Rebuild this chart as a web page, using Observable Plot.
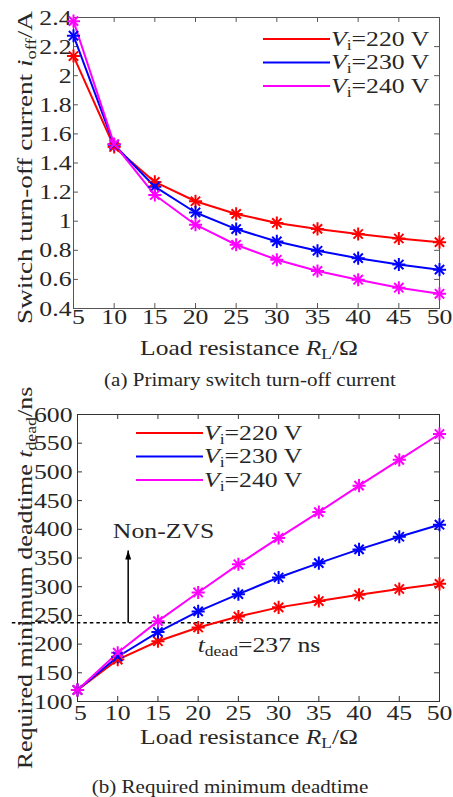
<!DOCTYPE html>
<html>
<head>
<meta charset="utf-8">
<script src="https://cdn.jsdelivr.net/npm/d3@7"></script>
<script src="https://cdn.jsdelivr.net/npm/@observablehq/plot@0.6"></script>
<style>
  body { margin: 0; background: #fff; }
  #wrap { position: relative; width: 453px; height: 797px; overflow: hidden; background: #fff; }
  #wrap svg { position: absolute; left: 0; overflow: visible; }
</style>
</head>
<body>
<div id="wrap"></div>
<script>
// ---------- data ----------
const resistance = [5, 10, 15, 20, 25, 30, 35, 40, 45, 50];
const seriesNames = ["220", "230", "240"];
const seriesColors = ["#ff0000", "#0000ff", "#ff00ff"];

const ioff220 = [2.135, 1.51, 1.27, 1.137, 1.05, 0.988, 0.947, 0.912, 0.881, 0.856];
const ioff230 = [2.275, 1.525, 1.237, 1.06, 0.946, 0.861, 0.797, 0.746, 0.702, 0.667];
const ioff240 = [2.375, 1.53, 1.18, 0.976, 0.838, 0.735, 0.658, 0.598, 0.543, 0.501];

const tdead220 = [120, 173, 205, 229, 248, 264, 275, 286, 296, 305];
const tdead230 = [120, 178, 221, 257, 287, 316, 341, 365, 387, 408];
const tdead240 = [120, 185, 240, 290, 339, 385, 430, 476, 521, 566];

const xTicks = [5, 10, 15, 20, 25, 30, 35, 40, 45, 50];
const ioffTicks = [0.4, 0.6, 0.8, 1.0, 1.2, 1.4, 1.6, 1.8, 2.0, 2.2, 2.4];
const tdeadTicks = [100, 150, 200, 250, 300, 350, 400, 450, 500, 550, 600];

const deadtimeLimit = 237;
const deadLineSpan = [-3.1, 50];
const nonZvsArrow = [{x: 11.3, from: 237, to: 363}];
const nonZvsNote = [{x: 15.7, y: 397, label: "Non-ZVS"}];
const deadNote = {x: 20, y: 185};

// ---------- styling ----------
const FONT = "'Liberation Serif', 'Times New Roman', serif";
const TEXT = "#262626";
const STRETCH = 1.17;

function tableOf(seriesArrays) {
  return seriesNames.flatMap((s, i) => resistance.map((r, j) => ({s, r, v: seriesArrays[i][j]})));
}
const ioffRows = tableOf([ioff220, ioff230, ioff240]);
const tdeadRows = tableOf([tdead220, tdead230, tdead240]);

function innerTicks(xt, yt, [x0, x1], [y0, y1], lx, ly, stroke) {
  return [
    Plot.ruleX(xt, {x: d => d, y1: y0, y2: y0 + ly, stroke}),
    Plot.ruleX(xt, {x: d => d, y1: y1, y2: y1 - ly, stroke}),
    Plot.ruleY(yt, {y: d => d, x1: x0, x2: x0 + lx, stroke}),
    Plot.ruleY(yt, {y: d => d, x1: x1, x2: x1 - lx, stroke})
  ];
}

function xAxes(ticks, pad, firstShift) {
  const common = {anchor: "bottom", tickSize: 0, tickPadding: pad, fontSize: 22, label: null, tickFormat: d => String(d)};
  return [
    Plot.axisX(ticks.slice(0, 1), {...common, dx: firstShift}),
    Plot.axisX(ticks.slice(1), common)
  ];
}

function curveMarks(rows) {
  return [
    Plot.line(rows, {x: "r", y: "v", z: "s", stroke: "s", strokeWidth: 2}),
    Plot.dot(rows, {x: "r", y: "v", stroke: "s", symbol: "plus", r: 4.3, strokeWidth: 2}),
    Plot.dot(rows, {x: "r", y: "v", stroke: "s", symbol: "times", r: 4.3, strokeWidth: 2})
  ];
}

const arrowHead = {
  draw(ctx) { ctx.moveTo(0, 0); ctx.lineTo(3, 9); ctx.lineTo(-3, 9); ctx.closePath(); }
};

// ---------- chart (a) ----------
const p1 = Plot.plot({
  width: 453, height: 390,
  marginTop: 17, marginBottom: 82, marginLeft: 73, marginRight: 14,
  style: {fontFamily: FONT, fontSize: "22px", color: TEXT, background: "transparent", overflow: "visible"},
  x: {domain: [5, 50]},
  y: {domain: [0.4, 2.4]},
  color: {domain: seriesNames, range: seriesColors},
  marks: [
    ...innerTicks(xTicks, ioffTicks, [5, 50], [0.4, 2.4], 0.6, 0.034, "#555"),
    Plot.frame({stroke: "#555"}),
    ...xAxes(xTicks, 0, 5),
    Plot.axisY(ioffTicks, {anchor: "left", tickSize: 0, tickPadding: 2, fontSize: 22, label: null, tickFormat: d => String(+d.toFixed(1))}),
    ...curveMarks(ioffRows)
  ]
});

// ---------- chart (b) ----------
const p2 = Plot.plot({
  width: 453, height: 407,
  marginTop: 24, marginBottom: 96, marginLeft: 77, marginRight: 14,
  style: {fontFamily: FONT, fontSize: "22px", color: TEXT, background: "transparent", overflow: "visible"},
  x: {domain: [5, 50]},
  y: {domain: [100, 600]},
  color: {domain: seriesNames, range: seriesColors},
  marks: [
    ...innerTicks(xTicks, tdeadTicks, [5, 50], [100, 600], 0.62, 8.7, "#333"),
    Plot.frame({stroke: "#333"}),
    ...xAxes(xTicks, 3, 3),
    Plot.axisY(tdeadTicks, {anchor: "left", tickSize: 0, tickPadding: 5, fontSize: 22, label: null, tickFormat: d => String(d)}),
    Plot.ruleY([deadtimeLimit], {y: d => d, x1: deadLineSpan[0], x2: deadLineSpan[1], stroke: "#000", strokeWidth: 1.5, strokeDasharray: "3.5,3"}),
    Plot.link(nonZvsArrow, {x1: "x", y1: "from", x2: "x", y2: "to", stroke: "#000", strokeWidth: 1.5}),
    Plot.dot(nonZvsArrow, {x: "x", y: "to", symbol: arrowHead, fill: "#000", stroke: "none"}),
    Plot.text(nonZvsNote, {x: "x", y: "y", text: "label", fontSize: 22, fill: TEXT}),
    ...curveMarks(tdeadRows)
  ]
});

const wrap = document.getElementById("wrap");
p1.style.top = "0px";
p2.style.top = "390px";
p1.style.background = "transparent";
p2.style.background = "transparent";
wrap.appendChild(p1);
wrap.appendChild(p2);

// ---------- rich text helpers ----------
function richText(g, parts, attrs) {
  const t = g.append("text").attr("fill", TEXT).attr("font-family", FONT).attr("text-anchor", "start");
  for (const [k, v] of Object.entries(attrs)) t.attr(k, v);
  for (const p of parts) {
    const s = t.append("tspan").text(p.text);
    if (p.italic) s.attr("font-style", "italic");
    if (p.size) s.attr("font-size", p.size);
    if (p.dy) s.attr("dy", p.dy);
  }
  return t;
}

function addLegend(svg, x0, lineLen, baselines) {
  const g = d3.select(svg).append("g");
  seriesNames.forEach((s, i) => {
    const yb = baselines[i];
    g.append("line").attr("x1", x0).attr("x2", x0 + lineLen)
      .attr("y1", yb - 7).attr("y2", yb - 7)
      .attr("stroke", seriesColors[i]).attr("stroke-width", 2);
    richText(g, [
      {text: "V", italic: true},
      {text: "i", size: 15, dy: 4},
      {text: `=${s} V`, dy: -4}
    ], {x: x0 + lineLen + 1, y: yb, "font-size": 22});
  });
}

// chart (a) texts
{
  const g = d3.select(p1).append("g");
  richText(g, [
    {text: "Load resistance "},
    {text: "R", italic: true},
    {text: "L", size: 15, dy: 4},
    {text: "/Ω", dy: -4}
  ], {x: 249, y: 355, "text-anchor": "middle", "font-size": 22, "data-len": 218});
  richText(g, [
    {text: "Switch turn-off current "},
    {text: "i", italic: true},
    {text: "off", size: 15, dy: 4},
    {text: "/A", dy: -4}
  ], {transform: "translate(32,167.5) rotate(-90)", "text-anchor": "middle", "font-size": 22, "data-len": 313});
  richText(g, [{text: "(a) Primary switch turn-off current"}],
    {x: 250, y: 386, "text-anchor": "middle", "font-size": 18});
  addLegend(p1, 263, 67, [46, 69.5, 93]);
}

// chart (b) texts
{
  const g = d3.select(p2).append("g");
  richText(g, [
    {text: "Load resistance "},
    {text: "R", italic: true},
    {text: "L", size: 15, dy: 4},
    {text: "/Ω", dy: -4}
  ], {x: 249, y: 354, "text-anchor": "middle", "font-size": 22, "data-len": 218});
  richText(g, [
    {text: "Required minimum deadtime "},
    {text: "t", italic: true},
    {text: "dead", size: 15, dy: 4},
    {text: "/ns", dy: -4}
  ], {transform: "translate(32,188) rotate(-90)", "text-anchor": "middle", "font-size": 22, "data-len": 383});
  richText(g, [{text: "(b) Required minimum deadtime"}],
    {x: 230, y: 403, "text-anchor": "middle", "font-size": 18});
  const sx = p2.scale("x"), sy = p2.scale("y");
  richText(g, [
    {text: "t", italic: true},
    {text: "dead", size: 15, dy: 4},
    {text: `=${deadtimeLimit} ns`, dy: -4}
  ], {x: sx.apply(deadNote.x), y: sy.apply(deadNote.y), "font-size": 22});
  addLegend(p2, 136, 67, [50, 73.5, 97]);
}

// ---------- widen glyphs (about each text's anchor) to match the reference's broad serif ----------
for (const svg of [p1, p2]) {
  svg.querySelectorAll("text").forEach(t => {
    const len = t.getComputedTextLength();
    if (!(len > 0)) return;
    const k = t.hasAttribute("data-len") ? +t.getAttribute("data-len") / len : STRETCH;
    const x = parseFloat(t.getAttribute("x")) || 0;
    const y = parseFloat(t.getAttribute("y")) || 0;
    const T = t.getAttribute("transform") || "";
    t.setAttribute("transform", `${T} translate(${x},${y}) scale(${k.toFixed(4)},1) translate(${-x},${-y})`.trim());
  });
}
</script>
</body>
</html>
